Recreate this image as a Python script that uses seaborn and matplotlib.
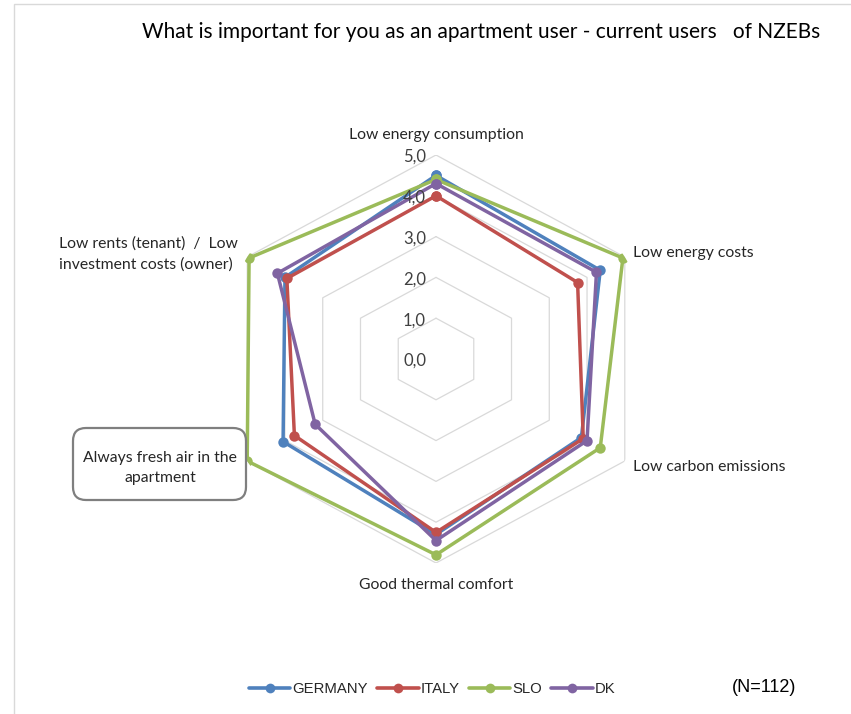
import numpy as np
import pandas as pd
import matplotlib
matplotlib.use("Agg")
import matplotlib.pyplot as plt
from matplotlib.patches import Rectangle, FancyBboxPatch
from matplotlib.transforms import IdentityTransform
import seaborn as sns

categories = [
    "Low energy consumption",
    "Low energy costs",
    "Low carbon emissions",
    "Good thermal comfort",
    "Always fresh air in the\napartment",
    "Low rents (tenant)  /  Low\ninvestment costs (owner)",
]
germany = [4.5, 4.35, 3.85, 4.3, 4.05, 4.0]
italy = [4.0, 3.75, 3.9, 4.25, 3.75, 3.95]
slo = [4.4, 4.95, 4.35, 4.8, 5.0, 4.95]
dk = [4.3, 4.25, 4.0, 4.45, 3.2, 4.2]
series_names = ["GERMANY", "ITALY", "SLO", "DK"]
tick_values = [0, 1, 2, 3, 4, 5]
tick_labels = ["0,0", "1,0", "2,0", "3,0", "4,0", "5,0"]
title = "What is important for you as an apartment user - current users   of NZEBs"
note = "(N=112)"

colors = ["#4F81BD", "#C0504D", "#9BBB59", "#8064A2"]

sns.set_theme(style="white")
plt.rcParams["font.family"] = ["Lato", "DejaVu Sans"]

n = len(categories)
angles = np.arange(n) * 2 * np.pi / n

rows = []
for name, vals in zip(series_names, [germany, italy, slo, dk]):
    for i in list(range(n)) + [0]:
        rows.append({"country": name, "theta": angles[i], "value": vals[i]})
df = pd.DataFrame(rows)

fig = plt.figure(figsize=(8.51, 7.14), dpi=100)
W, H = 851, 714
cx, cy, rx, ry = 436, 359, 218, 204
ax = fig.add_axes([(cx - rx) / W, (H - cy - ry) / H, 2 * rx / W, 2 * ry / H], projection="polar")
ax.set_aspect("auto")
ax.set_theta_zero_location("N")
ax.set_theta_direction(-1)
ax.set_ylim(0, 5)
ax.spines["polar"].set_visible(False)
ax.patch.set_alpha(0)

# hexagonal grid
ang_closed = np.append(angles, angles[0])
for lv in tick_values[1:]:
    ax.plot(ang_closed, [lv] * (n + 1), color="#D9D9D9", lw=0.9, zorder=1)

sns.lineplot(data=df, x="theta", y="value", hue="country", hue_order=series_names,
             palette=colors, sort=False, estimator=None, units="country",
             marker="o", markersize=7.5, markeredgewidth=0, linewidth=2.5, ax=ax, legend=True)
handles, labels = ax.get_legend_handles_labels()
ax.get_legend().remove()
ax.set_xlabel("")
ax.set_ylabel("")
ax.grid(False)
ax.set_xticks([])
ax.set_yticks([])
ax.set_ylim(0, 5)

# radial tick labels
for v, lab in zip(tick_values, tick_labels):
    ax.annotate(lab, xy=(0, v), xytext=(-10, -2), textcoords="offset pixels",
                ha="right", va="center", fontsize=12, color="#404040")

# category labels
lab_kw = dict(fontsize=11.3, color="#262626")
ax.annotate(categories[0], xy=(angles[0], 5), xytext=(0, 20), textcoords="offset pixels",
            ha="center", va="center", **lab_kw)
ax.annotate(categories[1], xy=(angles[1], 5), xytext=(8, 4), textcoords="offset pixels",
            ha="left", va="center", **lab_kw)
ax.annotate(categories[2], xy=(angles[2], 5), xytext=(8, -6), textcoords="offset pixels",
            ha="left", va="center", **lab_kw)
ax.annotate(categories[3], xy=(angles[3], 5), xytext=(0, -22), textcoords="offset pixels",
            ha="center", va="center", **lab_kw)
ax.annotate(categories[4], xy=(angles[4], 5), xytext=(-87, -7), textcoords="offset pixels",
            ha="center", va="center", multialignment="center", linespacing=1.5, **lab_kw)
ax.annotate(categories[5], xy=(angles[5], 5), xytext=(-9, 3), textcoords="offset pixels",
            ha="right", va="center", multialignment="left", linespacing=1.55, **lab_kw)

# rounded box around the highlighted label (pixel coordinates)
box = FancyBboxPatch((73, H - 500), 173, 72, boxstyle="round,pad=0,rounding_size=13",
                     transform=IdentityTransform(), fc="none", ec="#7F7F7F", lw=1.6)
fig.add_artist(box)

fig.text(481 / W, 1 - 32 / H, title, ha="center", va="center", fontsize=15, color="black")
fig.text(764 / W, 1 - 688 / H, note, ha="center", va="center", fontsize=13,
         family=["Liberation Sans", "DejaVu Sans"], color="black")

leg = fig.legend(handles, labels, loc="center", bbox_to_anchor=(432 / W, 1 - 689 / H),
                 ncol=4, frameon=False, handlelength=2.8, handletextpad=0.1, columnspacing=0.65,
                 prop={"family": ["Liberation Sans", "DejaVu Sans"], "size": 10.7})
for h in leg.legend_handles:
    h.set_markersize(7)
    h.set_linewidth(2.6)

fig.patches.append(Rectangle((14 / W, -0.1), 1.2, 1 - 4 / H + 0.1, transform=fig.transFigure,
                             fill=False, ec="#D9D9D9", lw=1.0))

fig.savefig("out.png", dpi=100)
